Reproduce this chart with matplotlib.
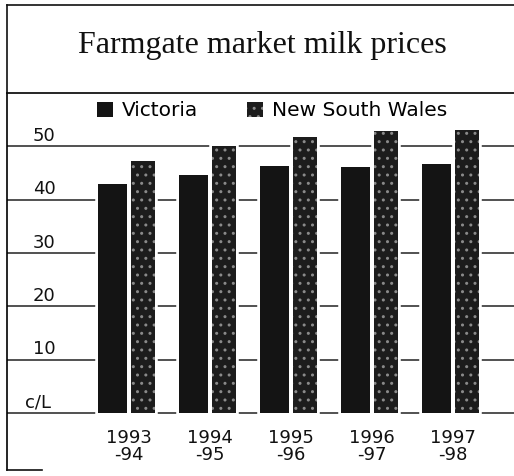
import numpy as np
import matplotlib
matplotlib.use("Agg")
import matplotlib.pyplot as plt
from matplotlib.lines import Line2D

# farmgate market milk prices, cents per litre
seasons = ["1993\n-94", "1994\n-95", "1995\n-96", "1996\n-97", "1997\n-98"]
victoria = [43.0, 44.7, 46.3, 46.2, 46.7]
nsw = [47.3, 50.1, 51.8, 52.9, 53.0]
ytick_vals = [0, 10, 20, 30, 40, 50]
ytick_labels = ["c/L", "10", "20", "30", "40", "50"]

W, H = 514, 476
fig = plt.figure(figsize=(W / 100, H / 100), dpi=100)
sans = "DejaVu Sans"

# plot area: from the title rule down to the bottom of the frame
ax = fig.add_axes([7 / W, 1 - 470 / H, 1 - 7 / W, (470 - 93) / H])
ax.set_xlim(-1.506, 4.753)
ax.set_ylim(-10.7, 60.0)
ax.set_xticks([])
ax.set_yticks([])
for s in ["right", "bottom"]:
    ax.spines[s].set_visible(False)
ax.spines["left"].set_linewidth(1.2)
ax.spines["top"].set_linewidth(1.2)

for v in ytick_vals:
    ax.axhline(v, color="#222222", lw=1.1, zorder=1)

x = np.arange(len(seasons))
wv, wn = 0.36, 0.30
xv, xn = x - 0.20, x + 0.17

# white backdrop so gridlines stop short of each bar
ax.bar(xv, victoria, wv, color="white", edgecolor="white", lw=4, zorder=2)
ax.bar(xn, nsw, wn, color="white", edgecolor="white", lw=4, zorder=2)

b1 = ax.bar(xv, victoria, wv, color="#141414", lw=0, zorder=3, label="Victoria")
b2 = ax.bar(xn, nsw, wn, color="#1c1c1c", edgecolor="#8a8a8a", lw=0,
            hatch="..", zorder=3, label="New South Wales")

for v, lab in zip(ytick_vals, ytick_labels):
    xpos = 25 if lab == "c/L" else 33
    ax.text((xpos - 7) / (W - 7), v + 1.0, lab, transform=ax.get_yaxis_transform(),
            ha="left", va="baseline", fontsize=13, family=sans, color="#111111")

for xi, lab in zip(x, seasons):
    ax.text(xi, -3.0, lab, ha="center", va="top", fontsize=13, family=sans,
            linespacing=0.95, color="#111111")

ax.legend(handles=[b1, b2], ncol=2, frameon=False, loc="center left",
          bbox_to_anchor=(97 / W, 1 - 111 / H), bbox_transform=fig.transFigure,
          prop={"family": sans, "size": 14.5}, handlelength=0.8, handleheight=0.8,
          handletextpad=0.45, columnspacing=2.4, borderaxespad=0, borderpad=0)

# title box
fig.add_artist(Line2D([7 / W, 1], [1 - 5 / H, 1 - 5 / H], color="#111111", lw=1.2))
fig.add_artist(Line2D([7 / W, 7 / W], [1 - 5 / H, 1 - 93 / H], color="#111111", lw=1.2))
fig.add_artist(Line2D([7 / W, 42 / W], [1 - 470 / H, 1 - 470 / H], color="#111111", lw=1.2))
fig.text(262 / W, 1 - 45 / H, "Farmgate market milk prices", ha="center", va="center",
         fontsize=23, family="Liberation Serif", color="#111111")

fig.savefig("out.png", dpi=100)
